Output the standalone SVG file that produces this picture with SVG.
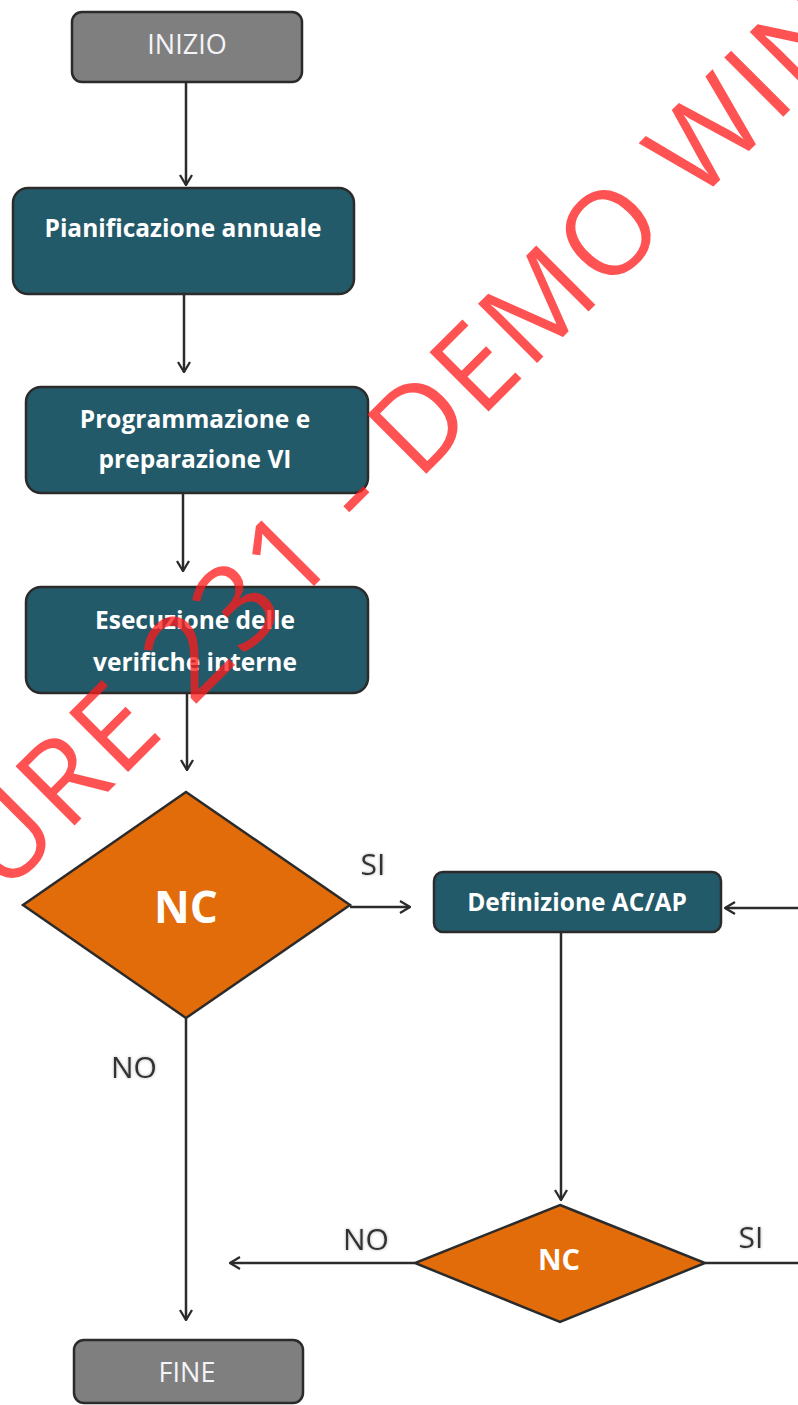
<svg xmlns="http://www.w3.org/2000/svg" width="798" height="1405" viewBox="0 0 798 1405">
<style>
.term{fill:#7f7f7f;stroke:#2b2b2b;stroke-width:2.5}
.proc{fill:#235a69;stroke:#2b2b2b;stroke-width:2.5}
.dec{fill:#e36c0a;stroke:#2b2b2b;stroke-width:2.5;stroke-linejoin:miter}
.tt{font-family:"Open Sans","Noto Sans",sans-serif;font-size:27px;fill:#f4f4f8;text-anchor:middle}
.pt{font-family:"Open Sans","Noto Sans",sans-serif;font-weight:bold;font-size:24.5px;fill:#ffffff;text-anchor:middle}
.nc{font-family:"Open Sans","Noto Sans",sans-serif;font-weight:bold;fill:#ffffff;text-anchor:middle}
.lbl{font-family:"Open Sans","Noto Sans",sans-serif;font-size:30px;fill:#333333;text-anchor:middle;filter:url(#glow)}
.con{fill:none;stroke:#2b2b2b;stroke-width:2.5}
.wm{font-family:"Open Sans","Noto Sans",sans-serif;font-size:117px;letter-spacing:3.4px;fill:#ff1c1c;fill-opacity:0.76}
</style>
<defs>
<marker id="arr" viewBox="0 0 12 14" refX="11" refY="7" markerWidth="12" markerHeight="14" markerUnits="userSpaceOnUse" orient="auto">
<path d="M1,1 L11,7 L1,13" fill="none" stroke="#2b2b2b" stroke-width="2.3"/>
</marker>
<filter id="glow" x="-30%" y="-30%" width="160%" height="160%">
<feGaussianBlur in="SourceAlpha" stdDeviation="1.6" result="b"/>
<feFlood flood-color="#9a9a9a" flood-opacity="0.8"/>
<feComposite in2="b" operator="in" result="s"/>
<feMerge><feMergeNode in="s"/><feMergeNode in="SourceGraphic"/></feMerge>
</filter>
</defs>
<rect width="798" height="1405" fill="#ffffff"/>
<g id="connectors">
<line class="con" x1="186" y1="82" x2="186" y2="185" marker-end="url(#arr)"/>
<line class="con" x1="184" y1="294" x2="184" y2="372" marker-end="url(#arr)"/>
<line class="con" x1="183" y1="493" x2="183" y2="571" marker-end="url(#arr)"/>
<line class="con" x1="187" y1="693" x2="187" y2="770" marker-end="url(#arr)"/>
<line class="con" x1="350" y1="907" x2="410" y2="907" marker-end="url(#arr)"/>
<line class="con" x1="798" y1="908" x2="725" y2="908" marker-end="url(#arr)"/>
<line class="con" x1="561" y1="932" x2="561" y2="1200" marker-end="url(#arr)"/>
<line class="con" x1="415" y1="1263" x2="230" y2="1263" marker-end="url(#arr)"/>
<line class="con" x1="705" y1="1263" x2="798" y2="1263"/>
<line class="con" x1="186" y1="1018" x2="186" y2="1320" marker-end="url(#arr)"/>
<text class="lbl" x="373" y="875">SI</text>
<text class="lbl" x="134" y="1078">NO</text>
<text class="lbl" x="366" y="1250">NO</text>
<text class="lbl" x="751" y="1248">SI</text>
</g>
<g id="inizio">
<rect class="term" x="72" y="12" width="230" height="70" rx="10"/>
<text class="tt" x="187" y="54">INIZIO</text>
</g>
<g id="pianificazione">
<rect class="proc" x="13" y="188" width="341" height="106" rx="15"/>
<text class="pt" x="183" y="237">Pianificazione annuale</text>
</g>
<g id="programmazione">
<rect class="proc" x="26" y="387" width="342" height="106" rx="15"/>
<text class="pt" x="195" y="428">Programmazione e</text>
<text class="pt" x="195" y="468">preparazione VI</text>
</g>
<g id="esecuzione">
<rect class="proc" x="26" y="587" width="342" height="106" rx="15"/>
<text class="pt" x="195" y="629">Esecuzione delle</text>
<text class="pt" x="195" y="671">verifiche interne</text>
</g>
<g id="nc1">
<polygon class="dec" points="186,792 350,905 186,1018 23,905"/>
<text class="nc" x="186" y="923" font-size="44">NC</text>
</g>
<g id="definizione">
<rect class="proc" x="434" y="872" width="287" height="60" rx="9"/>
<text class="pt" x="577" y="911">Definizione AC/AP</text>
</g>
<g id="nc2">
<polygon class="dec" points="560,1205 705,1263 560,1322 415,1263"/>
<text class="nc" x="559" y="1270" font-size="29">NC</text>
</g>
<g id="fine">
<rect class="term" x="74" y="1340" width="229" height="63" rx="10"/>
<text class="tt" x="187" y="1382">FINE</text>
</g>
<g id="watermark">
<text class="wm" transform="translate(428,472) rotate(-45)" x="-600" y="0">URE 231 - DEMO WIN</text>
</g>
</svg>
